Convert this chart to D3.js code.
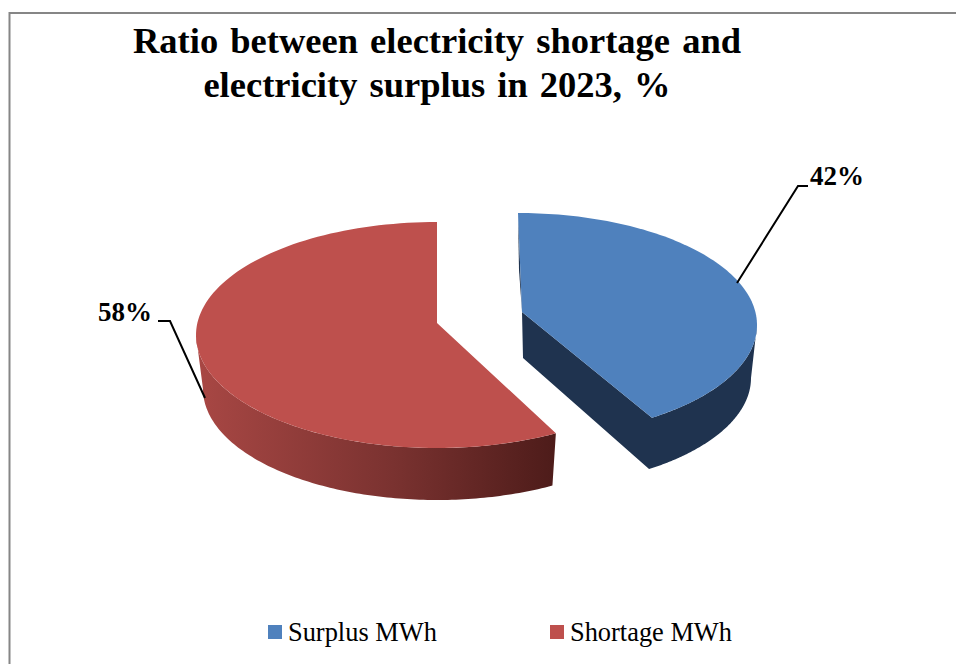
<!DOCTYPE html>
<html><head><meta charset="utf-8">
<script src="https://cdn.jsdelivr.net/npm/d3@7"></script>
<style>html,body{margin:0;padding:0;background:#fff}svg{display:block}text{font-family:"Liberation Serif",serif;fill:#000}</style>
</head><body><svg id="c" width="956" height="664"></svg>
<script>
const categories = ["Surplus MWh", "Shortage MWh"];
const values = [42, 58];
const labels = ["42%", "58%"];
const titleLines = ["Ratio between electricity shortage and", "electricity surplus in 2023, %"];
const colors = ["#4f81bd", "#be504d"];

const svg = d3.select("#c");
const W = 956, H = 664;
svg.append("rect").attr("width", W).attr("height", H).attr("fill", "#fff");
svg.append("path").attr("d", `M9.5,${H}V13H${W}`).attr("fill", "none").attr("stroke", "#868686").attr("stroke-width", 2);

const defs = svg.append("defs");
const grad = defs.append("linearGradient").attr("id", "redWall").attr("gradientUnits", "userSpaceOnUse")
  .attr("x1", 198).attr("x2", 553).attr("y1", 0).attr("y2", 0);
grad.append("stop").attr("offset", 0).attr("stop-color", "#a84744");
grad.append("stop").attr("offset", 0.55).attr("stop-color", "#7a3230");
grad.append("stop").attr("offset", 1).attr("stop-color", "#4e1c1a");

// slice layout: pie angles clockwise from 12 o'clock; geometry of the projected disc
const arcs = d3.pie().sort(null)(values);
const geo = [
  {apex:[522,312], apexB:[523,358], warp:0.965, top:{cx:518,cy:325,rx:239,ry:112}, bot:{cx:519,cy:378,rx:232,ry:110}},
  {apex:[437,323], apexB:[437,369], warp:0.995, top:{cx:437,cy:335,rx:241,ry:113}, bot:{cx:437,cy:389,rx:234,ry:111}}
];
const pt = (e, t) => [e.cx + e.rx * Math.sin(t), e.cy - e.ry * Math.cos(t)];
const sample = (e, a, b) => d3.range(0, 121).map(i => pt(e, a + (b - a) * i / 120));
const line = d3.line();

// red: wall then top
const red = geo[1], ra = arcs[1];
const redStart = ra.startAngle * red.warp;
const leftmost = Math.PI * 1.5;
svg.append("path").attr("fill", "url(#redWall)")
  .attr("d", line([...sample(red.top, redStart, leftmost), ...sample(red.bot, leftmost, redStart)]) + "Z");
svg.append("path").attr("fill", colors[1])
  .attr("d", line([red.apex, ...sample(red.top, redStart, ra.endAngle)]) + "Z");

// blue: walls then top
const blue = geo[0], ba = arcs[0];
const blueEnd = ba.endAngle * blue.warp;
const wall = "#1f334f";
const rightmost = Math.PI / 2;
svg.append("path").attr("fill", wall)
  .attr("d", line([blue.apex, ...sample(blue.top, blueEnd, rightmost), ...sample(blue.bot, rightmost, blueEnd), blue.apexB]) + "Z");
svg.append("path").attr("fill", wall)
  .attr("d", line([[518,213], blue.apex, [519,270]]) + "Z");
svg.append("path").attr("fill", colors[0])
  .attr("d", line([blue.apex, ...sample(blue.top, ba.startAngle, blueEnd)]) + "Z");

// leaders and data labels
[[[737,283],[798,186],[808,186]], [[205,398],[170,321],[158,321]]].forEach(p =>
  svg.append("path").attr("d", line(p)).attr("fill", "none").attr("stroke", "#000").attr("stroke-width", 2));
svg.append("text").attr("x", 810).attr("y", 185).attr("font-size", 27).attr("font-weight", "bold").text(labels[0]);
svg.append("text").attr("x", 98).attr("y", 321).attr("font-size", 27).attr("font-weight", "bold").text(labels[1]);

// title
const titleY = [53, 97];
titleLines.forEach((t, i) => svg.append("text").attr("x", 437).attr("y", titleY[i])
  .attr("text-anchor", "middle").attr("font-size", 36.5).attr("font-weight", "bold").attr("word-spacing", 3).text(t));

// legend
const legX = [268, 550], txtX = [288, 570];
categories.forEach((c, i) => {
  svg.append("rect").attr("x", legX[i]).attr("y", 625).attr("width", 14).attr("height", 14).attr("fill", colors[i]);
  svg.append("text").attr("x", txtX[i]).attr("y", 641).attr("font-size", 26.4).text(c);
});
</script></body></html>
